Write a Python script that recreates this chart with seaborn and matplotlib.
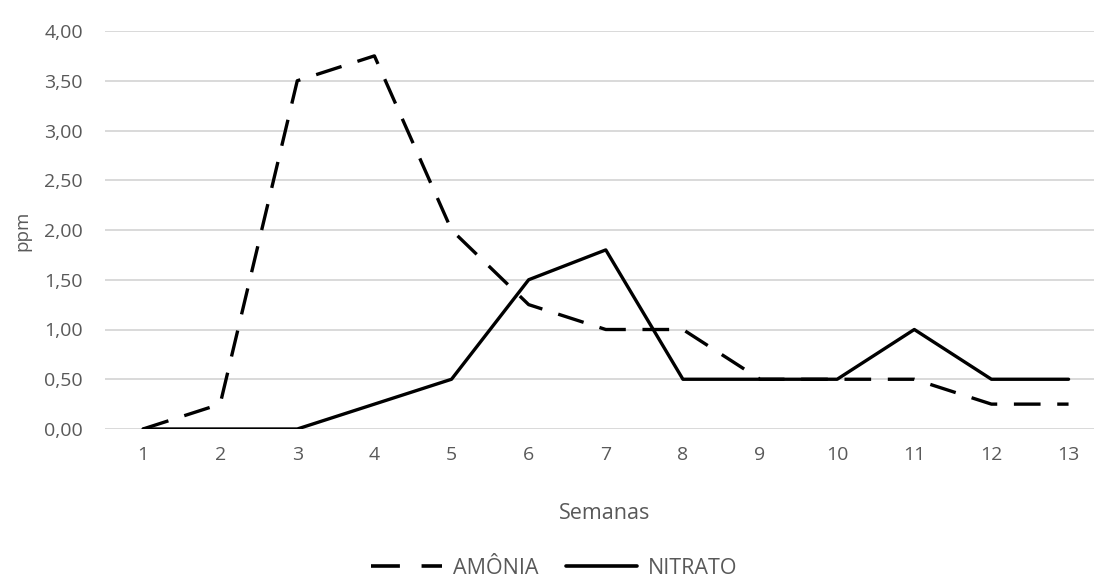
import matplotlib
matplotlib.use("Agg")
import matplotlib.pyplot as plt
import seaborn as sns
import pandas as pd
from matplotlib.lines import Line2D

semanas = list(range(1, 14))
amonia = [0.0, 0.25, 3.5, 3.75, 2.0, 1.25, 1.0, 1.0, 0.5, 0.5, 0.5, 0.25, 0.25]
nitrato = [0.0, 0.0, 0.0, 0.25, 0.5, 1.5, 1.8, 0.5, 0.5, 0.5, 1.0, 0.5, 0.5]
y_ticks = [0.0, 0.5, 1.0, 1.5, 2.0, 2.5, 3.0, 3.5, 4.0]
y_tick_labels = ["0,00", "0,50", "1,00", "1,50", "2,00", "2,50", "3,00", "3,50", "4,00"]
series_names = ["AMÔNIA", "NITRATO"]

df = pd.DataFrame({
    "Semanas": semanas * 2,
    "ppm": amonia + nitrato,
    "serie": [series_names[0]] * len(semanas) + [series_names[1]] * len(semanas),
})

sns.set_theme(style="white")
plt.rcParams["font.family"] = ["Open Sans", "DejaVu Sans"]

fig = plt.figure(figsize=(10.94, 5.79), dpi=100)
ax = fig.add_axes([105 / 1094, 1 - 429 / 579, 1 - 105 / 1094, (429 - 31) / 579])

sns.lineplot(
    data=df, x="Semanas", y="ppm", hue="serie", style="serie",
    palette={series_names[0]: "black", series_names[1]: "black"},
    dashes={series_names[0]: (8, 5), series_names[1]: ""},
    linewidth=2.4, ax=ax, legend=False, zorder=3,
)

gray = "#595959"
ax.set_xlim(0.507, 13.33)
ax.set_ylim(0, 4.0)
ax.set_yticks(y_ticks)
ax.set_yticklabels(y_tick_labels)
ax.set_xticks(semanas)
ax.set_xticklabels([str(s) for s in semanas])
ax.grid(axis="y", color="#d9d9d9", linewidth=1.4, zorder=0)
ax.grid(axis="x", visible=False)
for sp in ax.spines.values():
    sp.set_visible(False)
ax.tick_params(axis="both", length=0, labelsize=14, labelcolor=gray)
ax.tick_params(axis="y", pad=16)
ax.tick_params(axis="x", pad=12)
ax.set_xlabel("Semanas", fontsize=15.5, color=gray)
ax.xaxis.set_label_coords((605 - 105) / (1094 - 105), -(503 - 429) / (429 - 31))
ax.set_ylabel("ppm", fontsize=13.5, color=gray)
ax.yaxis.set_label_coords(-(105 - 31) / (1094 - 105), (429 - 231) / (429 - 31))

handles = [
    Line2D([], [], color="black", linewidth=2.6, dashes=(8, 6)),
    Line2D([], [], color="black", linewidth=2.6),
]
fig.legend(handles, series_names, loc="center", bbox_to_anchor=(554 / 1094, 1 - 568 / 579),
           ncol=2, frameon=False, fontsize=15.5, labelcolor=gray,
           handlelength=3.3, handletextpad=0.5, columnspacing=1.3)

fig.savefig("out.png", dpi=100)
